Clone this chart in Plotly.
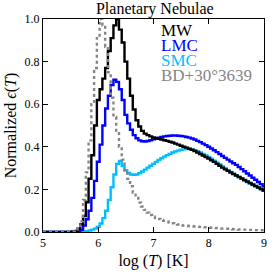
import numpy as np
import plotly.graph_objects as go

# log(T) bin centres, 5.00 .. 9.00 in 0.05 steps
logT = np.round(np.arange(5.0, 9.0001, 0.05), 2)

mw = [0]*11 + [
    0.002, 0.005, 0.015, 0.035, 0.075, 0.14, 0.25, 0.36, 0.50, 0.62,
    0.67, 0.72, 0.77, 0.85, 0.91, 0.97, 1.00, 0.95, 0.89, 0.80,
    0.72, 0.64, 0.575, 0.525, 0.495, 0.475, 0.462, 0.455, 0.449, 0.444,
    0.440, 0.437, 0.434, 0.431, 0.428, 0.424, 0.420, 0.415, 0.410, 0.405,
    0.400, 0.396, 0.391, 0.386, 0.380, 0.373, 0.366, 0.359, 0.352, 0.345,
    0.337, 0.329, 0.320, 0.311, 0.302, 0.294, 0.287, 0.279, 0.272, 0.265,
    0.258, 0.251, 0.244, 0.237, 0.230, 0.223, 0.216, 0.209, 0.202, 0.195]

lmc = [0]*13 + [
    0.003, 0.01, 0.03, 0.06, 0.10, 0.16, 0.24, 0.33,
    0.41, 0.50, 0.58, 0.64, 0.69, 0.715, 0.705, 0.67, 0.62, 0.55,
    0.51, 0.48, 0.455, 0.44, 0.43, 0.426, 0.425, 0.427, 0.431, 0.435,
    0.439, 0.443, 0.446, 0.449, 0.451, 0.452, 0.453, 0.453, 0.452, 0.451,
    0.449, 0.446, 0.443, 0.439, 0.434, 0.428, 0.422, 0.415, 0.408, 0.400,
    0.392, 0.384, 0.375, 0.366, 0.357, 0.348, 0.340, 0.331, 0.323, 0.315,
    0.305, 0.295, 0.285, 0.275, 0.265, 0.255, 0.245, 0.235, 0.225, 0.215]

smc = [0]*14 + [
    0.001, 0.002, 0.004, 0.007, 0.011, 0.016, 0.025,
    0.04, 0.065, 0.10, 0.15, 0.21, 0.27, 0.32, 0.333, 0.31, 0.29,
    0.277, 0.27, 0.268, 0.27, 0.276, 0.284, 0.293, 0.302, 0.311, 0.32,
    0.329, 0.338, 0.346, 0.354, 0.361, 0.367, 0.373, 0.378, 0.382, 0.386,
    0.388, 0.389, 0.389, 0.387, 0.384, 0.379, 0.373, 0.366, 0.359, 0.352,
    0.344, 0.335, 0.326, 0.317, 0.308, 0.299, 0.290, 0.282, 0.274, 0.266,
    0.258, 0.250, 0.242, 0.235, 0.228, 0.221, 0.214, 0.207, 0.200, 0.194]

bd = [0]*11 + [
    0.002, 0.006, 0.015, 0.05, 0.15, 0.28, 0.43, 0.60, 0.77, 0.91,
    1.00, 0.97, 0.87, 0.75, 0.63, 0.54, 0.47, 0.40, 0.34, 0.29,
    0.25, 0.215, 0.185, 0.16, 0.138, 0.12, 0.104, 0.091, 0.08, 0.072,
    0.066, 0.061, 0.056, 0.052, 0.048, 0.044, 0.041, 0.038, 0.035, 0.032,
    0.030, 0.029, 0.028, 0.027, 0.026, 0.025, 0.024, 0.023, 0.022, 0.021,
    0.020, 0.019, 0.018, 0.017, 0.016, 0.015, 0.015, 0.014, 0.013, 0.013,
    0.012, 0.012, 0.011, 0.011, 0.010, 0.010, 0.009, 0.009, 0.008, 0.008]

names = ["MW", "LMC", "SMC", "BD+30°3639"]
colors = ["#000000", "#0000ff", "#00bfff", "#858585"]

FONT = "Liberation Serif"

fig = go.Figure()
fig.add_trace(go.Scatter(x=logT, y=smc, mode="lines", line_shape="hvh",
                         line=dict(color=colors[2], width=2.4), name=names[2]))
fig.add_trace(go.Scatter(x=logT, y=lmc, mode="lines", line_shape="hvh",
                         line=dict(color=colors[1], width=2.4), name=names[1]))
fig.add_trace(go.Scatter(x=logT, y=mw, mode="lines", line_shape="hvh",
                         line=dict(color=colors[0], width=2.4), name=names[0]))
fig.add_trace(go.Scatter(x=logT, y=bd, mode="lines", line_shape="hvh",
                         line=dict(color=colors[3], width=2.4, dash="dot"), name=names[3]))

# text-only legend
for i, (n, c) in enumerate(zip(names, colors)):
    fig.add_annotation(xref="paper", yref="paper", x=0.525, y=0.944 - i*0.069,
                       xanchor="left", yanchor="middle", text=n, showarrow=False,
                       font=dict(family=FONT, size=17, color=c))

axis_common = dict(showgrid=False, zeroline=False, ticks="inside", ticklen=5,
                   tickcolor="black", mirror="ticks", showline=True,
                   linecolor="black", linewidth=1,
                   tickfont=dict(family=FONT, size=12, color="black"))

fig.update_layout(
    width=274, height=274,
    margin=dict(l=43, r=7, t=19, b=41),
    paper_bgcolor="white", plot_bgcolor="white",
    showlegend=False,
    title=dict(text="Planetary Nebulae", x=0.565, xanchor="center", y=0.99,
               yanchor="top", font=dict(family=FONT, size=16, color="black")),
    xaxis=dict(range=[5, 9], tickvals=[5, 6, 7, 8, 9],
               title=dict(text="log (<i>T</i>) [K]", standoff=5,
                          font=dict(family=FONT, size=16, color="black")),
               **axis_common),
    yaxis=dict(range=[0, 1.0], tickvals=[0, 0.2, 0.4, 0.6, 0.8, 1.0], tickformat=".1f",
               title=dict(text="Normalized <i>ϵ</i>(<i>T</i>)", standoff=3,
                          font=dict(family=FONT, size=16, color="black")),
               **axis_common),
)

fig.write_html("out.html", config={"displayModeBar": False},
               post_script="document.body.style.margin='0';document.body.style.overflow='hidden';")
